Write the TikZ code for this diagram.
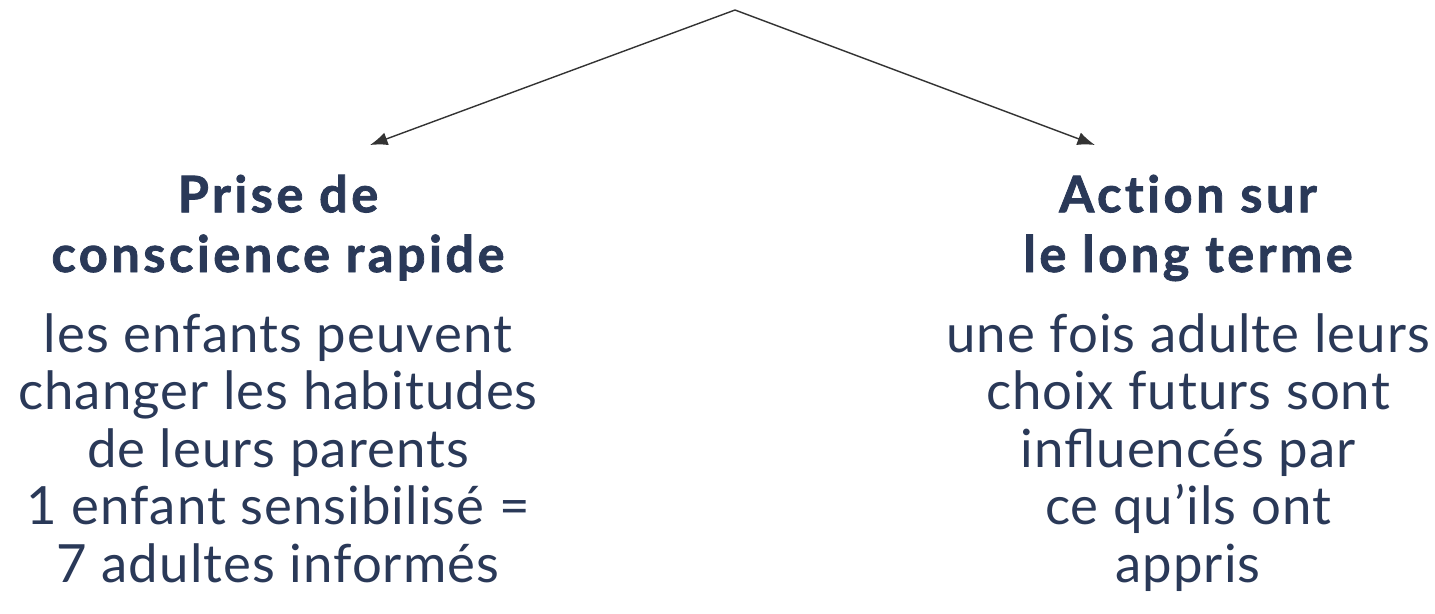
\documentclass[tikz,border=0pt]{standalone}
\usepackage{fontspec}
\setmainfont{Lato}
\usepackage{tikz}
\usetikzlibrary{calc, arrows.meta}
\tikzset{>={Latex[length=10pt,width=7.5pt]}}
\definecolor{mynavy}{RGB}{42, 57, 88}
\definecolor{mygray3}{RGB}{51, 51, 51}
\tikzset{
  titre/.style = {anchor=base, align=center, inner sep=0, text=mynavy,
    font=\fontsize{28.7}{34}\selectfont\bfseries\addfontfeatures{LetterSpace=7, FakeBold=1.6, Ligatures=NoCommon}},
  corps/.style = {anchor=base, align=center, inner sep=0, text=mynavy,
    font=\fontsize{30}{32.7}\selectfont\addfontfeatures{LetterSpace=2}}
}

\begin{document}
\begin{tikzpicture}[x=0.02cm, y=-0.02cm]
\useasboundingbox (0,0) rectangle (1435,613);
\coordinate (sommet) at (735,10);
\coordinate (finG) at (370,145);
\coordinate (finD) at (1095,145);
\draw[->, mygray3, line width=0.8pt] (sommet) -- (finG);
\draw[->, mygray3, line width=0.8pt] (sommet) -- (finD);
% colonne gauche (ancre sur la derniere ligne)
\node[titre] (titreG) at (278,272) {Prise de\\conscience rapide};
\node[corps] (corpsG) at (278,582) {les enfants peuvent\\changer les habitudes\\de leurs parents\\1 enfant sensibilisé =\\7 adultes informés};
% colonne droite
\node[titre] (titreD) at (1188,272) {Action sur\\le long terme};
\node[corps] (corpsD) at (1188,582) {une fois adulte leurs\\choix futurs sont\\influencés par\\ce qu’ils ont\\appris};
\end{tikzpicture}
\end{document}
